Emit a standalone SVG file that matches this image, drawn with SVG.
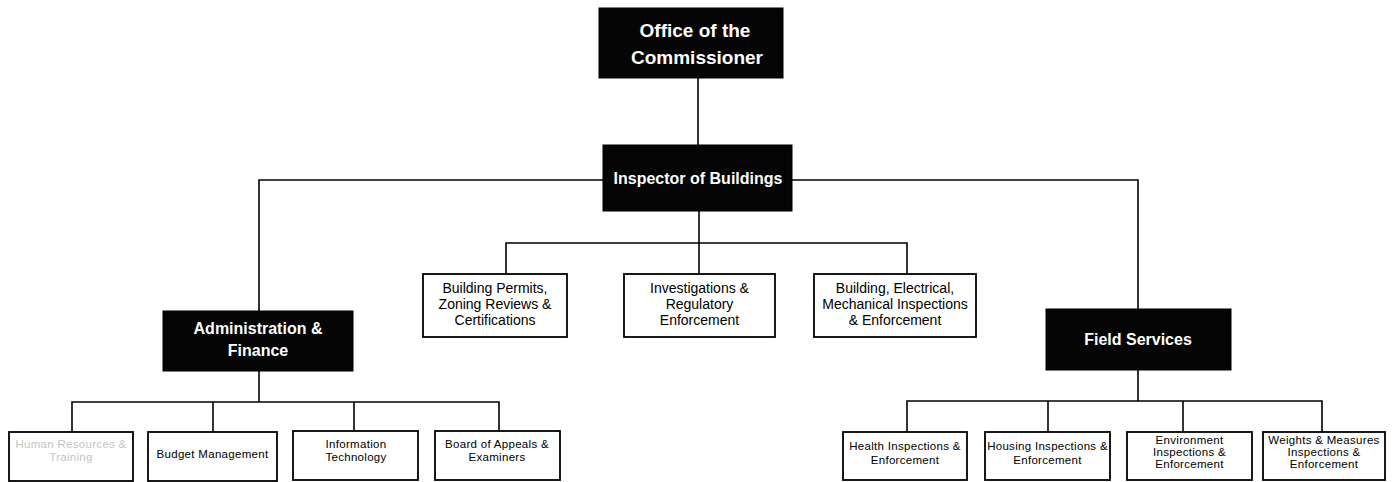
<svg xmlns="http://www.w3.org/2000/svg" width="1392" height="482" viewBox="0 0 1392 482">
  <style>
    .dark { fill: #050505; stroke: #000; stroke-width: 1; }
    .lite { fill: #fff; stroke: #000; stroke-width: 1.8; }
    .hd { font-family: "Liberation Sans", Arial, sans-serif; font-weight: bold; fill: #fff; text-anchor: middle; }
    .md { font-family: "Liberation Sans", Arial, sans-serif; font-size: 14px; fill: #000; text-anchor: middle; }
    .sm { font-family: "Liberation Sans", Arial, sans-serif; font-size: 11.5px; letter-spacing: 0.3px; fill: #000; text-anchor: middle; }
    .faded { fill: #c4c4c4; }
    .wire { fill: none; stroke: #000; stroke-width: 1.6; }
  </style>

  <rect width="1392" height="482" fill="#fff"/>

  <!-- connectors -->
  <g id="connectors" class="wire">
    <path d="M698 78 V145"/>
    <path d="M603 180 H259 V311"/>
    <path d="M792 180 H1138 V309"/>
    <path d="M699 211 V274"/>
    <path d="M506 274 V243 H907 V274"/>
    <path d="M259 371 V402"/>
    <path d="M72 432 V402 H499 V431"/>
    <path d="M213 402 V432"/>
    <path d="M354 402 V431"/>
    <path d="M1138 370 V401"/>
    <path d="M907 432 V401 H1322 V432"/>
    <path d="M1048 401 V432"/>
    <path d="M1183 401 V432"/>
  </g>

  <!-- top level -->
  <g id="commissioner">
    <rect class="dark" x="599" y="8" width="184" height="70"/>
    <text class="hd" font-size="19" x="695" y="37">Office of the</text>
    <text class="hd" font-size="19" x="697" y="64">Commissioner</text>
  </g>

  <g id="inspector">
    <rect class="dark" x="603" y="145" width="189" height="66"/>
    <text class="hd" font-size="16" x="698" y="184">Inspector of Buildings</text>
  </g>

  <!-- divisions -->
  <g id="admin-finance">
    <rect class="dark" x="163" y="311" width="190" height="60"/>
    <text class="hd" font-size="16" x="258" y="334">Administration &amp;</text>
    <text class="hd" font-size="16" x="258" y="356">Finance</text>
  </g>

  <g id="field-services">
    <rect class="dark" x="1046" y="309" width="185" height="61"/>
    <text class="hd" font-size="16" x="1138" y="345">Field Services</text>
  </g>

  <!-- units under the Inspector -->
  <g id="permits">
    <rect class="lite" x="423" y="274" width="144" height="63"/>
    <text class="md" x="495" y="293">Building Permits,</text>
    <text class="md" x="495" y="309">Zoning Reviews &amp;</text>
    <text class="md" x="495" y="325">Certifications</text>
  </g>

  <g id="investigations">
    <rect class="lite" x="624" y="274" width="151" height="63"/>
    <text class="md" x="699.5" y="293">Investigations &amp;</text>
    <text class="md" x="699.5" y="309">Regulatory</text>
    <text class="md" x="699.5" y="325">Enforcement</text>
  </g>

  <g id="building-inspections">
    <rect class="lite" x="814" y="274" width="162" height="63"/>
    <text class="md" x="895" y="293">Building, Electrical,</text>
    <text class="md" x="895" y="309">Mechanical Inspections</text>
    <text class="md" x="895" y="325">&amp; Enforcement</text>
  </g>

  <!-- Administration & Finance units -->
  <g id="human-resources">
    <rect class="lite" x="9" y="432" width="124" height="49"/>
    <text class="sm faded" x="71" y="448">Human Resources &amp;</text>
    <text class="sm faded" x="71" y="461">Training</text>
  </g>

  <g id="budget">
    <rect class="lite" x="148" y="432" width="129" height="49"/>
    <text class="sm" x="212.5" y="458">Budget Management</text>
  </g>

  <g id="information-technology">
    <rect class="lite" x="293" y="431" width="125" height="49"/>
    <text class="sm" x="356" y="448">Information</text>
    <text class="sm" x="356" y="461">Technology</text>
  </g>

  <g id="board-of-appeals">
    <rect class="lite" x="435" y="431" width="125" height="49"/>
    <text class="sm" x="497" y="448">Board of Appeals &amp;</text>
    <text class="sm" x="497" y="461">Examiners</text>
  </g>

  <!-- Field Services units -->
  <g id="health">
    <rect class="lite" x="843" y="432" width="124" height="48"/>
    <text class="sm" x="905" y="450">Health Inspections &amp;</text>
    <text class="sm" x="905" y="464">Enforcement</text>
  </g>

  <g id="housing">
    <rect class="lite" x="985" y="432" width="125" height="48"/>
    <text class="sm" x="1047.5" y="450">Housing Inspections &amp;</text>
    <text class="sm" x="1047.5" y="464">Enforcement</text>
  </g>

  <g id="environment">
    <rect class="lite" x="1127" y="432" width="125" height="48"/>
    <text class="sm" x="1189.5" y="444">Environment</text>
    <text class="sm" x="1189.5" y="456">Inspections &amp;</text>
    <text class="sm" x="1189.5" y="468">Enforcement</text>
  </g>

  <g id="weights-measures">
    <rect class="lite" x="1263" y="432" width="122" height="48"/>
    <text class="sm" x="1324" y="444">Weights &amp; Measures</text>
    <text class="sm" x="1324" y="456">Inspections &amp;</text>
    <text class="sm" x="1324" y="468">Enforcement</text>
  </g>
</svg>
